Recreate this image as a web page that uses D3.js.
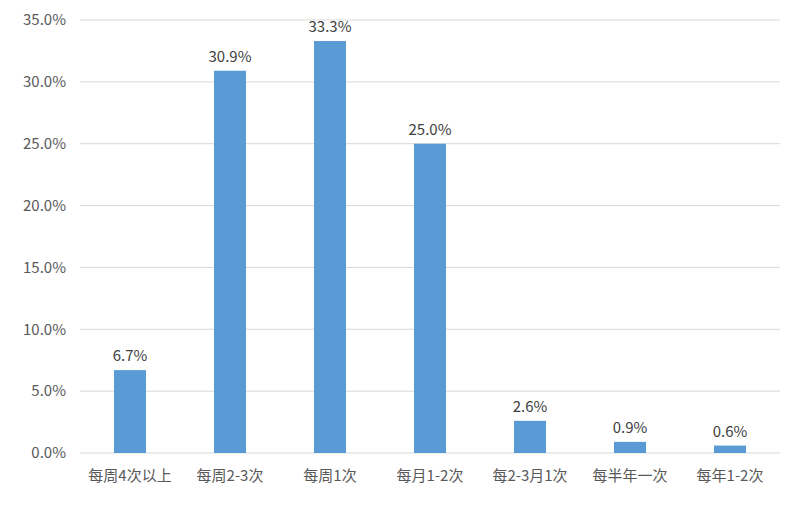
<!DOCTYPE html>
<html><head><meta charset="utf-8">
<script src="https://cdn.jsdelivr.net/npm/d3@7"></script>
<style>body{margin:0;background:#fff}text{font-family:"Noto Sans CJK SC","Noto Sans",sans-serif}</style>
</head><body><div id="chart"></div>
<script>
const categories = ['每周4次以上','每周2-3次','每周1次','每月1-2次','每2-3月1次','每半年一次','每年1-2次'];
const values = [6.7, 30.9, 33.3, 25.0, 2.6, 0.9, 0.6];
const yTicks = [0, 5, 10, 15, 20, 25, 30, 35];

const W = 800, H = 507;
const margin = {top: 20, right: 20, bottom: 54, left: 80};

const svg = d3.select('#chart').append('svg').attr('width', W).attr('height', H);

const x = d3.scaleBand().domain(categories).range([margin.left, W - margin.right]).paddingInner(0.68).paddingOuter(0.34);
const y = d3.scaleLinear().domain([0, 35]).range([H - margin.bottom, margin.top]);

svg.append('g').selectAll('line').data(yTicks).join('line')
  .attr('x1', margin.left).attr('x2', W - margin.right)
  .attr('y1', d => y(d)).attr('y2', d => y(d))
  .attr('stroke', '#d9d9d9').attr('stroke-width', 1);

svg.append('g').selectAll('text').data(yTicks).join('text')
  .attr('x', margin.left - 14).attr('y', d => y(d)).attr('dy', '0.35em')
  .attr('text-anchor', 'end').attr('font-size', 15).attr('fill', '#595959')
  .text(d => d.toFixed(1) + '%');

svg.append('g').selectAll('rect').data(values).join('rect')
  .attr('x', (d, i) => x(categories[i])).attr('width', x.bandwidth())
  .attr('y', d => y(d)).attr('height', d => y(0) - y(d))
  .attr('fill', '#5b9bd5');

svg.append('g').selectAll('text').data(values).join('text')
  .attr('x', (d, i) => x(categories[i]) + x.bandwidth() / 2).attr('y', d => y(d) - 9)
  .attr('text-anchor', 'middle').attr('font-size', 15).attr('fill', '#404040')
  .text(d => d.toFixed(1) + '%');

svg.append('g').selectAll('text').data(categories).join('text')
  .attr('x', d => x(d) + x.bandwidth() / 2).attr('y', y(0) + 28)
  .attr('text-anchor', 'middle').attr('font-size', 15).attr('fill', '#595959')
  .text(d => d);
</script></body></html>
